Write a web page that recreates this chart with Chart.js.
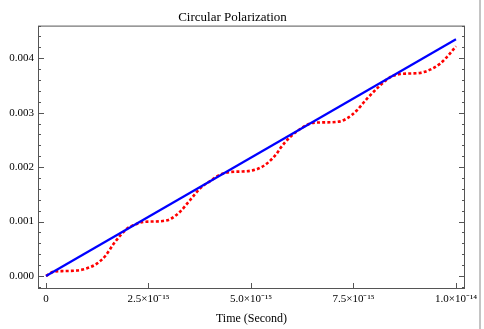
<!DOCTYPE html>
<html><head><meta charset="utf-8">
<script src="https://cdn.jsdelivr.net/npm/chart.js@4"></script>
<style>html,body{margin:0;padding:0;background:#fff}</style>
</head><body>
<canvas id="c" width="484" height="329"></canvas>
<script>
const titleText = 'Circular Polarization';
const xAxisTitle = 'Time (Second)';
const blueTime = [0, 1.0e-14];
const blueValue = [0, 0.00435];
const redTimeFs = [0, 0.2, 0.44, 0.76, 1.0, 1.25, 1.46, 1.66, 1.82, 1.98, 2.19, 2.39, 2.6, 2.85, 3.02, 3.27, 3.51, 3.76, 4.0, 4.24, 4.49, 4.81, 5.14, 5.38, 5.63, 5.71, 5.95, 6.2, 6.44, 6.68, 7.09, 7.33, 7.58, 7.82, 8.15, 8.39, 8.63, 8.88, 9.12, 9.37, 9.61, 9.81, 10.0];
const redValueMilli = [0, 0.08, 0.09, 0.10, 0.14, 0.23, 0.38, 0.60, 0.75, 0.87, 0.95, 0.995, 1.0, 1.01, 1.04, 1.18, 1.39, 1.61, 1.74, 1.86, 1.91, 1.92, 1.96, 2.06, 2.25, 2.34, 2.55, 2.70, 2.80, 2.82, 2.83, 2.89, 3.04, 3.25, 3.50, 3.65, 3.71, 3.72, 3.73, 3.79, 3.90, 4.05, 4.22];
const xTickValues = [0, 2.5e-15, 5e-15, 7.5e-15, 1e-14];
const xTickLabels = ['0', '2.5×10⁻¹⁵', '5.0×10⁻¹⁵', '7.5×10⁻¹⁵', '1.0×10⁻¹⁴'];
const yTickValues = [0, 0.001, 0.002, 0.003, 0.004];
const yTickLabels = ['0.000', '0.001', '0.002', '0.003', '0.004'];
const yMinorStep = 0.0002;

const blueData = blueTime.map((t, i) => ({x: t, y: blueValue[i]}));
const redData = redTimeFs.map((t, i) => ({x: t * 1e-15, y: redValueMilli[i] * 1e-3}));

const serif = 'Liberation Serif';

const framePlugin = {
  id: 'frame',
  afterDraw(chart) {
    const {ctx, chartArea: {left, right, top, bottom}, scales: {x, y}} = chart;
    ctx.save();
    ctx.strokeStyle = '#555';
    ctx.lineWidth = 1;
    ctx.strokeRect(left + 0.5, top + 0.5, right - left - 1, bottom - top - 1);
    ctx.beginPath();
    const kMin = Math.ceil(y.min / yMinorStep - 1e-9);
    const kMax = Math.floor(y.max / yMinorStep + 1e-9);
    for (let k = kMin; k <= kMax; k++) {
      const py = Math.round(y.getPixelForValue(k * yMinorStep)) + 0.5;
      const len = (k % 5 === 0) ? 6 : 3;
      ctx.moveTo(left, py); ctx.lineTo(left + len, py);
      ctx.moveTo(right, py); ctx.lineTo(right - len, py);
    }
    xTickValues.forEach(v => {
      const px = Math.round(x.getPixelForValue(v)) + 0.5;
      ctx.moveTo(px, bottom); ctx.lineTo(px, bottom - 6);
    });
    ctx.stroke();
    ctx.fillStyle = '#c4c4c4';
    ctx.fillRect(479, 0, 2, chart.height);
    ctx.restore();
  }
};

new Chart(document.getElementById('c'), {
  type: 'scatter',
  data: {
    datasets: [
      {label: 'linear', data: blueData, showLine: true, borderColor: '#0000ff', borderWidth: 2.2, pointRadius: 0, tension: 0},
      {label: 'circular', data: redData, showLine: true, borderColor: '#ff0000', borderWidth: 2.6, borderDash: [3, 2.2], pointRadius: 0, cubicInterpolationMode: 'monotone'}
    ]
  },
  options: {
    responsive: false,
    animation: false,
    devicePixelRatio: 1,
    layout: {padding: {left: 0, right: 19, top: 0, bottom: 0}},
    plugins: {
      legend: {display: false},
      tooltip: {enabled: false},
      title: {display: true, text: titleText, color: '#000', font: {family: serif, size: 13, weight: 'normal', lineHeight: 1.2}, padding: {top: 10, bottom: 0}}
    },
    scales: {
      x: {
        type: 'linear', min: -0.195e-15, max: 10.22e-15,
        grid: {display: false, drawTicks: false}, border: {display: false},
        afterBuildTicks: s => { s.ticks = xTickValues.map(v => ({value: v})); },
        afterFit: s => { s.height = 40; s.paddingLeft = 0; s.paddingRight = 0; },
        ticks: {autoSkip: false, maxRotation: 0, padding: 4, color: '#000', font: {family: serif, size: 11},
          callback: (v, i) => xTickLabels[i]},
        title: {display: true, text: xAxisTitle, color: '#000', font: {family: serif, size: 12}, padding: {top: 0, bottom: 3}}
      },
      y: {
        type: 'linear', min: -0.00024, max: 0.0046,
        grid: {display: false, drawTicks: false}, border: {display: false},
        afterBuildTicks: s => { s.ticks = yTickValues.map(v => ({value: v})); },
        afterFit: s => { s.width = 38; s.paddingTop = 0; s.paddingBottom = 0; },
        ticks: {autoSkip: false, padding: 4, color: '#000', font: {family: serif, size: 11},
          callback: (v, i) => yTickLabels[i]}
      }
    }
  },
  plugins: [framePlugin]
});
</script>
</body></html>
